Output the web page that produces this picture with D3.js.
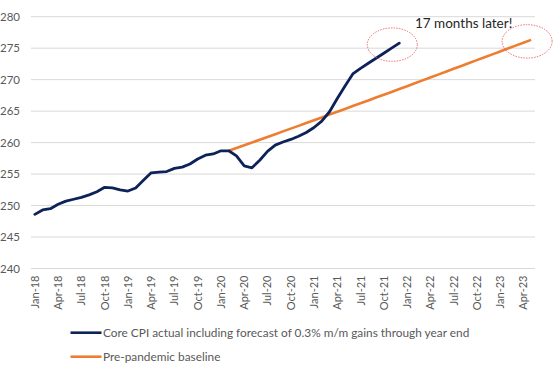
<!DOCTYPE html>
<html>
<head>
<meta charset="utf-8">
<script src="https://cdn.jsdelivr.net/npm/d3@7/dist/d3.min.js"></script>
<style>
  html, body { margin: 0; padding: 0; background: #ffffff; }
  svg { display: block; }
  text { font-family: Lato, "Liberation Sans", sans-serif; }
</style>
</head>
<body>
<svg id="chart" width="554" height="369"></svg>
<script>
// ---- data ----
const monthNames = ["Jan","Feb","Mar","Apr","May","Jun","Jul","Aug","Sep","Oct","Nov","Dec"];
const years = ["18","19","20","21","22","23"];
// categories Jan-18 .. May-23 (65 months)
const categories = [];
years.forEach(y => monthNames.forEach(m => categories.push(m + "-" + y)));
categories.splice(65);

// Core CPI actual including forecast, Jan-18 .. Dec-21
const coreCPI = [
  248.6, 249.3, 249.5, 250.2, 250.7, 251.0, 251.3, 251.7, 252.2, 252.9, 252.8, 252.5,
  252.3, 252.8, 254.0, 255.2, 255.3, 255.4, 255.9, 256.1, 256.6, 257.4, 258.0, 258.2,
  258.7, 258.7, 257.9, 256.3, 256.0, 257.2, 258.6, 259.6, 260.1, 260.5, 261.0, 261.6,
  262.4, 263.4, 264.9, 267.0, 269.0, 270.9, 271.8, 272.6, 273.4, 274.2, 275.0, 275.8
];
// Pre-pandemic baseline, Feb-20 .. May-23
const baselineStart = "Feb-20";
const baseline = [
  258.70, 259.14, 259.58, 260.02, 260.46, 260.90, 261.34, 261.78, 262.22, 262.66,
  263.10, 263.55, 264.00, 264.45, 264.90, 265.35, 265.80, 266.25, 266.70, 267.15,
  267.60, 268.05, 268.50, 268.96, 269.42, 269.88, 270.34, 270.80, 271.26, 271.72,
  272.18, 272.64, 273.10, 273.56, 274.02, 274.48, 274.94, 275.40, 275.86, 276.32
];
const yTicks = [240, 245, 250, 255, 260, 265, 270, 275, 280];
const xTickLabels = categories.filter((c, i) => i % 3 === 0);
const seriesNames = [
  "Core CPI actual including forecast of 0.3% m/m gains through year end",
  "Pre-pandemic baseline"
];
const annotation = "17 months later!";
const highlightPoints = [
  { cat: "Dec-21", series: 0 },
  { cat: "May-23", series: 1 }
];

// ---- layout ----
const colors = ["#0d2258", "#ed7d31"];
const svg = d3.select("#chart");
const plot = { left: 31, right: 535, top: 16.7, bottom: 268.5 };

const x = d3.scaleBand().domain(categories).range([plot.left, plot.right]).padding(0);
const xc = c => x(c) + x.bandwidth() / 2;
const y = d3.scaleLinear().domain([240, 280]).range([plot.bottom, plot.top]);

// gridlines
svg.append("g").selectAll("line").data(yTicks).join("line")
  .attr("x1", plot.left).attr("x2", plot.right)
  .attr("y1", d => y(d)).attr("y2", d => y(d))
  .attr("stroke", "#d9d9d9").attr("stroke-width", 1);

// y axis
const yAxis = d3.axisLeft(y).tickValues(yTicks).tickSize(0).tickPadding(0);
const gy = svg.append("g").attr("transform", `translate(20,0)`).call(yAxis);
gy.select(".domain").remove();
gy.selectAll("text").attr("fill", "#595959").style("font-size", "11.5px")
  .style("font-family", "Lato, 'Liberation Sans', sans-serif");

// x axis
const xAxis = d3.axisBottom(x).tickValues(xTickLabels).tickSize(0).tickPadding(0);
const gx = svg.append("g").attr("transform", `translate(0,${plot.bottom})`).call(xAxis);
gx.select(".domain").remove();
gx.selectAll("text")
  .attr("fill", "#595959").style("font-size", "11px")
  .style("font-family", "Lato, 'Liberation Sans', sans-serif")
  .attr("text-anchor", "end")
  .attr("dy", null)
  .attr("y", 0)
  .attr("transform", "translate(4,7) rotate(-90)");

// lines
const line = d3.line().x(d => xc(d.c)).y(d => y(d.v));
const blueData = coreCPI.map((v, i) => ({ c: categories[i], v }));
const bStart = categories.indexOf(baselineStart);
const orangeData = baseline.map((v, i) => ({ c: categories[bStart + i], v }));

svg.append("path").datum(orangeData).attr("d", line)
  .attr("fill", "none").attr("stroke", colors[1]).attr("stroke-width", 2.6)
  .attr("stroke-linejoin", "round");
svg.append("path").datum(blueData).attr("d", line)
  .attr("fill", "none").attr("stroke", colors[0]).attr("stroke-width", 2.8)
  .attr("stroke-linejoin", "round").attr("stroke-linecap", "round");

// highlight ellipses
const seriesArr = [blueData, orangeData];
highlightPoints.forEach((h, k) => {
  const pt = seriesArr[h.series].find(d => d.c === h.cat);
  svg.append("ellipse")
    .attr("cx", xc(pt.c) - 7 + k * 3).attr("cy", y(pt.v) + 1.5)
    .attr("rx", 25).attr("ry", 16.7)
    .attr("fill", "none").attr("stroke", "#e8585a").attr("stroke-width", 1)
    .attr("stroke-dasharray", "1.5,1.2").attr("opacity", 0.85);
});

// annotation
svg.append("text").attr("x", 415).attr("y", 28)
  .attr("fill", "#262626").style("font-size", "13.5px").text(annotation);

// legend
const lg = svg.append("g");
seriesNames.forEach((name, i) => {
  const ly = 332.7 + i * 24;
  lg.append("line").attr("x1", 70.5).attr("x2", 101.5).attr("y1", ly).attr("y2", ly)
    .attr("stroke", colors[i]).attr("stroke-width", 2.6);
  lg.append("text").attr("x", 103).attr("y", ly + 4.2)
    .attr("fill", "#595959").style("font-size", "11.85px").text(name);
});
</script>
</body>
</html>
